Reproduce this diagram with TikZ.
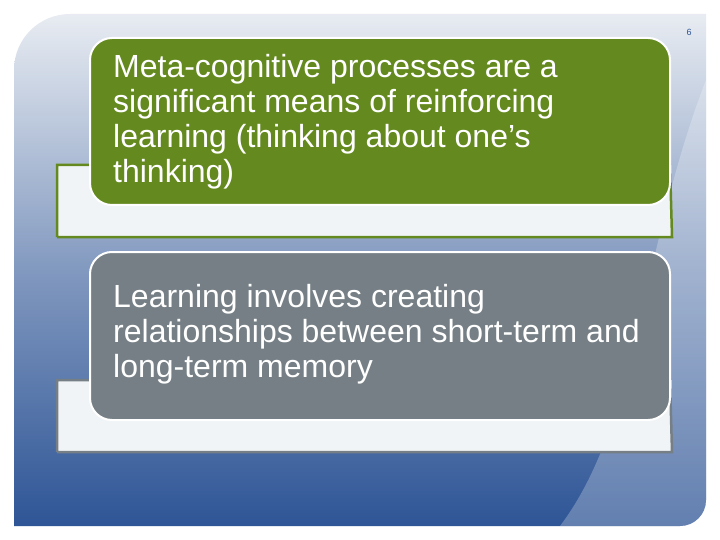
\documentclass[tikz,border=0pt]{standalone}
\usepackage{fontspec}
\setmainfont{Liberation Sans}
\begin{document}
\begin{tikzpicture}[x=1pt,y=-1pt,
  front/.style={rounded corners=22pt, draw=white, line width=2pt},
  txt/.style={anchor=north west, text=white, font=\fontsize{32}{35}\selectfont, align=left, inner sep=0pt}]
\definecolor{grn}{HTML}{64891E}
\definecolor{gry}{HTML}{757F85}
\definecolor{tb}{HTML}{E8ECF2}
\definecolor{bb}{HTML}{2E5596}
\useasboundingbox (0,0) rectangle (720,540);
\fill[white] (0,0) rectangle (720,540);
\shade[top color=tb, bottom color=bb, middle color=tb!45!bb]
  (14,526) -- (14,70) to[out=90,in=180] (70,14) -- (706,14) -- (706,500) to[out=-90,in=0] (680,526) -- cycle;
\fill[white, opacity=0.25] (706,80) .. controls (640,250) and (640,420) .. (560,526) -- (680,526) to[out=0,in=-90] (706,500) -- cycle;
\node[font=\fontsize{9}{10}\selectfont, text=bb] (pg) at (689,32) {6};
\fill[tb!60!white] (57,165) rectangle (672,237);
\draw[grn, line width=2.5pt] (57,237) -- (57,165) -- (90,165) (670,165) -- (672,237) -- (57,237);
\draw[front, fill=grn] (90,38) rectangle (670,205);
\node[txt] (t1) at (113,54) {Meta-cognitive processes are a\\significant means of reinforcing\\learning (thinking about one’s\\thinking)};
\fill[tb!60!white] (57,380) rectangle (672,452);
\draw[gry, line width=2.5pt] (57,452) -- (57,380) -- (90,380) (670,380) -- (672,452) -- (57,452);
\draw[front, fill=gry] (90,252) rectangle (670,420);
\node[txt] (t2) at (113,284) {Learning involves creating\\relationships between short-term and\\long-term memory};
\end{tikzpicture}
\end{document}
